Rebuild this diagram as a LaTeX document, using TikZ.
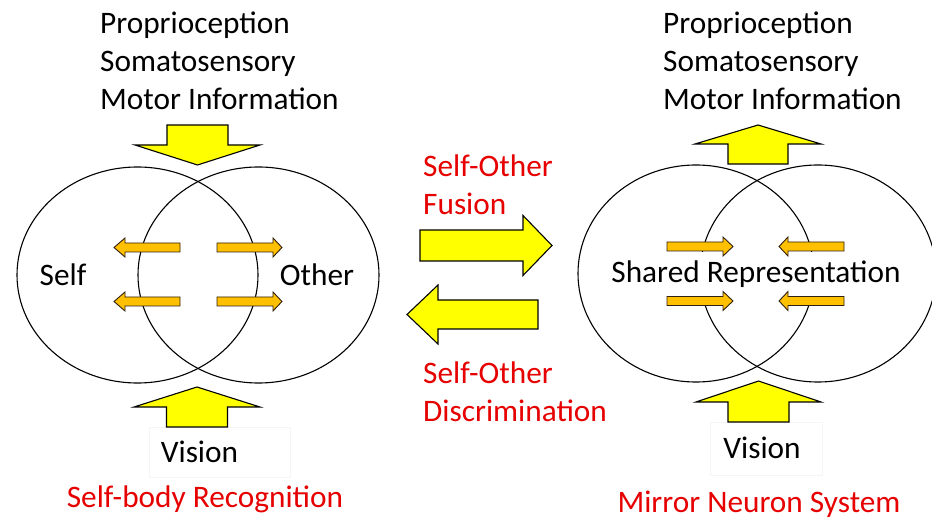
\documentclass[tikz,border=0pt]{standalone}
\usepackage{fontspec}
\setmainfont{Carlito}
\usetikzlibrary{shapes.geometric}
\definecolor{arrowyellow}{HTML}{FFFF00}
\definecolor{arroworange}{HTML}{FFC000}
\definecolor{labelred}{HTML}{E60000}
% horizontal block arrow: style, tail x, head-base x, tip x, centre y, half shaft, half head
\newcommand{\hblockarrow}[7]{%
  \filldraw[#1] (#2,#5-#6) -- (#3,#5-#6) -- (#3,#5-#7) -- (#4,#5)
    -- (#3,#5+#7) -- (#3,#5+#6) -- (#2,#5+#6) -- cycle;}
% vertical block arrow: style, tail y, head-base y, tip y, centre x, half shaft, half head
\newcommand{\vblockarrow}[7]{%
  \filldraw[#1] (#5-#6,#2) -- (#5-#6,#3) -- (#5-#7,#3) -- (#5,#4)
    -- (#5+#7,#3) -- (#5+#6,#3) -- (#5+#6,#2) -- cycle;}
\begin{document}
\begin{tikzpicture}[x=1pt,y=-1pt,
  bigarrow/.style={fill=arrowyellow,draw=black,line width=1.1pt,line join=miter},
  smallarrow/.style={fill=arroworange,draw=black!75!brown,line width=0.9pt,line join=miter},
  venn/.style={ellipse,draw=black,line width=1.1pt,inner sep=0pt},
  lbl/.style={font=\fontsize{31.3}{38.2}\selectfont,inner sep=0pt,text=black},
  redlbl/.style={lbl,text=labelred},
  visionbox/.style={draw=black!4,fill=white,inner sep=0pt}]
\useasboundingbox[fill=white] (0,0) rectangle (932,518);

% ---- left: self-body recognition ----
\node[venn,minimum width=241pt,minimum height=216pt] (selfL) at (137.5,275) {};
\node[venn,minimum width=241pt,minimum height=216pt] (otherL) at (258.5,275) {};

\vblockarrow{bigarrow}{125}{145}{165}{197.5}{30.5}{62.5}
\node[visionbox,minimum width=141pt,minimum height=50pt] (visboxL) at (219.5,452) {};
\vblockarrow{bigarrow}{427}{407}{387}{197}{30.5}{63}

\hblockarrow{smallarrow}{180}{125}{114}{247.5}{4.5}{9.5}
\hblockarrow{smallarrow}{180}{125}{114}{301.5}{4.5}{9.5}
\hblockarrow{smallarrow}{217}{273}{282}{247.5}{4.5}{9.5}
\hblockarrow{smallarrow}{217}{273}{282}{301.5}{4.5}{9.5}

% multi-line labels are placed by the baseline of their last line
\node[lbl,anchor=base west,align=left] (inL) at (100,110)
  {Proprioception\\Somatosensory\\Motor Information};
\node[lbl,anchor=base] (self) at (63,286) {Self};
\node[lbl,anchor=base] (other) at (317,286) {Other};
\node[lbl,anchor=base] (visionL) at (199.5,463) {Vision};
\node[redlbl,anchor=base] (recog) at (205,507) {Self-body Recognition};

% ---- middle: fusion / discrimination ----
\hblockarrow{bigarrow}{420}{523}{552}{245.5}{15.5}{30}
\hblockarrow{bigarrow}{538}{438}{407}{314.5}{14.5}{29.5}
\node[redlbl,anchor=base west,align=left] (fusion) at (423,215)
  {Self-Other\\Fusion};
\node[redlbl,anchor=base west,align=left] (discrim) at (423,422)
  {Self-Other\\Discrimination};

% ---- right: mirror neuron system ----
\node[venn,minimum width=236pt,minimum height=217pt] (selfR) at (696,273.5) {};
\node[venn,minimum width=236pt,minimum height=217pt] (otherR) at (818,273.5) {};

\vblockarrow{bigarrow}{164}{144}{125}{758}{30}{63}
\node[visionbox,minimum width=112pt,minimum height=53pt] (visboxR) at (766,448.5) {};
\vblockarrow{bigarrow}{422}{402}{381}{758.5}{30.5}{62.5}

\node[lbl,fill=white,minimum width=326pt,minimum height=46pt,anchor=base] (shared)
  at (756,283) {Shared Representation};

\hblockarrow{smallarrow}{667}{723}{733}{246.5}{4.5}{9.5}
\hblockarrow{smallarrow}{667}{723}{733}{301}{4.5}{9.5}
\hblockarrow{smallarrow}{844}{788}{779}{246.5}{4.5}{9.5}
\hblockarrow{smallarrow}{844}{788}{779}{301}{4.5}{9.5}

\node[lbl,anchor=base west,align=left] (inR) at (663,110)
  {Proprioception\\Somatosensory\\Motor Information};
\node[lbl,anchor=base] (visionR) at (762,458) {Vision};
\node[redlbl,anchor=base] (mirror) at (759,512) {Mirror Neuron System};
\end{tikzpicture}
\end{document}
